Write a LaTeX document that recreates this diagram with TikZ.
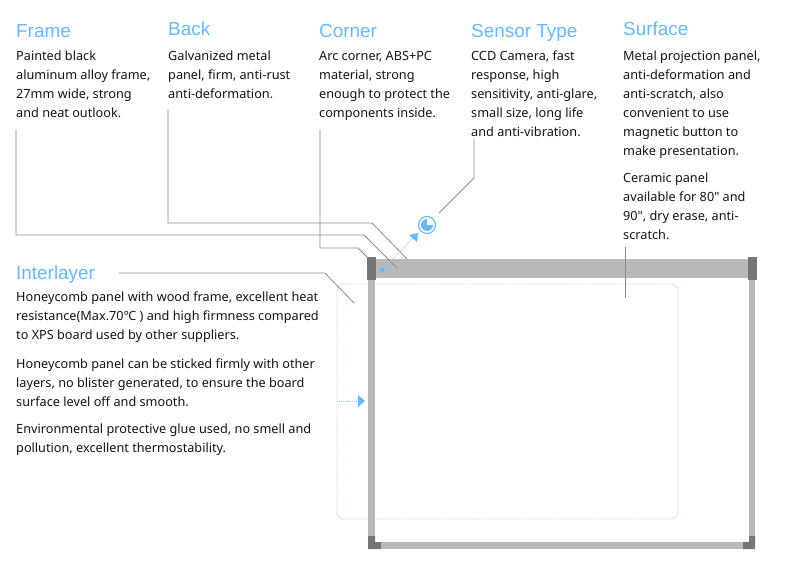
\documentclass[tikz,border=0pt]{standalone}
\usepackage{fontspec}
\setmainfont[Ligatures=TeXOff]{Noto Sans}
\newfontfamily\headfont{Liberation Sans}
\definecolor{skyblue}{HTML}{66B8FF}
\definecolor{paleblue}{HTML}{9CCFF8}
\definecolor{barfill}{HTML}{B9B9B9}
\definecolor{cornerfill}{HTML}{767676}
\definecolor{leadline}{HTML}{8C8C8C}
\tikzset{
  head/.style={anchor=base west,inner sep=0pt,text=skyblue,font=\headfont\fontsize{18.9}{20}\selectfont},
  body/.style={anchor=north west,inner sep=0pt,align=left,text=black!92,font=\fontsize{12.7}{19}\selectfont},
  lead/.style={draw=leadline,line width=0.8pt},
  dots/.style={draw=paleblue,densely dotted,line width=0.9pt},
}
\begin{document}
\begin{tikzpicture}[x=1pt,y=-1pt]
  \useasboundingbox (0,0) rectangle (793,562);

  % 引线端点
  \coordinate (F0) at (16,130);
  \coordinate (F1) at (16,235);
  \coordinate (F2) at (364,235);
  \coordinate (F3) at (397,268);
  \coordinate (B0) at (168,109);
  \coordinate (B1) at (168,223);
  \coordinate (B2) at (372,223);
  \coordinate (B3) at (407,259);
  \coordinate (C0) at (320,130);
  \coordinate (C1) at (320,248);
  \coordinate (C2) at (358,248);
  \coordinate (C3) at (368,258);
  \coordinate (S0) at (474,139);
  \coordinate (S1) at (474,178);
  \coordinate (S2) at (439,213);
  \coordinate (I0) at (119,273);
  \coordinate (I1) at (325,273);
  \coordinate (I2) at (354,303);
  \coordinate (U0) at (625,247);
  \coordinate (U1) at (625,298);

  % 虚线面板
  \draw[dots,rounded corners=7pt] (337,284) rectangle (678,519);

  % 边框
  \fill[barfill] (367,259) rectangle (750,278);
  \fill[barfill] (368,278) rectangle (375,536);
  \fill[barfill] (749,278) rectangle (755,536);
  \fill[barfill] (381,542) rectangle (743,549);
  \fill[cornerfill] (367,257) rectangle (376,280);
  \fill[cornerfill] (748,257) rectangle (757,280);
  \fill[cornerfill] (368,536) -- (375,536) -- (375,542) -- (381,542) -- (381,549) -- (368,549) -- cycle;
  \fill[cornerfill] (749,536) -- (755,536) -- (755,549) -- (743,549) -- (743,542) -- (749,542) -- cycle;

  % 引线
  \draw[lead] (F0) -- (F1) -- (F2) -- (F3);
  \draw[lead] (B0) -- (B1) -- (B2) -- (B3);
  \draw[lead] (C0) -- (C1) -- (C2) -- (C3);
  \draw[lead] (S0) -- (S1) -- (S2);
  \draw[lead] (I0) -- (I1) -- (I2);
  \draw[lead] (U0) -- (U1);

  % 蓝色箭头与传感器
  \coordinate (P) at (382,270);
  \coordinate (Q) at (413,238);
  \coordinate (R) at (337,401);
  \coordinate (T) at (358,401);
  \draw[dots] (P) -- (Q);
  \draw[dots] (R) -- (T);
  \fill[skyblue] (P) circle (2.6);
  \fill[skyblue] (409,235) -- (418,233) -- (417,242) -- cycle;
  \fill[skyblue] (358,395) -- (365,401) -- (358,407) -- cycle;
  \draw[skyblue,line width=1.1pt] (427,225) circle (8.5);
  \fill[skyblue] (427,225) -- (433,225) arc (0:270:6) -- cycle;

  % 标题
  \node[head] (frame) at (16,37) {Frame};
  \node[head] (back) at (168,35) {Back};
  \node[head] (corner) at (319,37) {Corner};
  \node[head] (sensor) at (471,37) {Sensor Type};
  \node[head] (surface) at (623,35) {Surface};
  \node[head] (interlayer) at (16,279) {Interlayer};

  % 说明文字
  \node[body] (frametext) at (16,51) {Painted black\\aluminum alloy frame,\\27mm wide, strong\\and neat outlook.};
  \node[body] (backtext) at (168,51) {Galvanized metal\\panel, firm, anti-rust\\anti-deformation.};
  \node[body] (cornertext) at (319,51) {Arc corner, ABS+PC\\material, strong\\enough to protect the\\components inside.};
  \node[body] (sensortext) at (471,51) {CCD Camera, fast\\response, high\\sensitivity, anti-glare,\\small size, long life\\and anti-vibration.};
  \node[body] (surfacetext) at (623,51) {Metal projection panel,\\anti-deformation and\\anti-scratch, also\\convenient to use\\magnetic button to\\make presentation.};
  \node[body] (ceramictext) at (623,173) {Ceramic panel\\available for 80" and\\90", dry erase, anti-\\scratch.};
  \node[body] (layertexta) at (16,292) {Honeycomb panel with wood frame, excellent heat\\resistance(Max.70℃ ) and high firmness compared\\to XPS board used by other suppliers.};
  \node[body] (layertextb) at (16,359) {Honeycomb panel can be sticked firmly with other\\layers, no blister generated, to ensure the board\\surface level off and smooth.};
  \node[body] (layertextc) at (16,424) {Environmental protective glue used, no smell and\\pollution, excellent thermostability.};
\end{tikzpicture}
\end{document}
